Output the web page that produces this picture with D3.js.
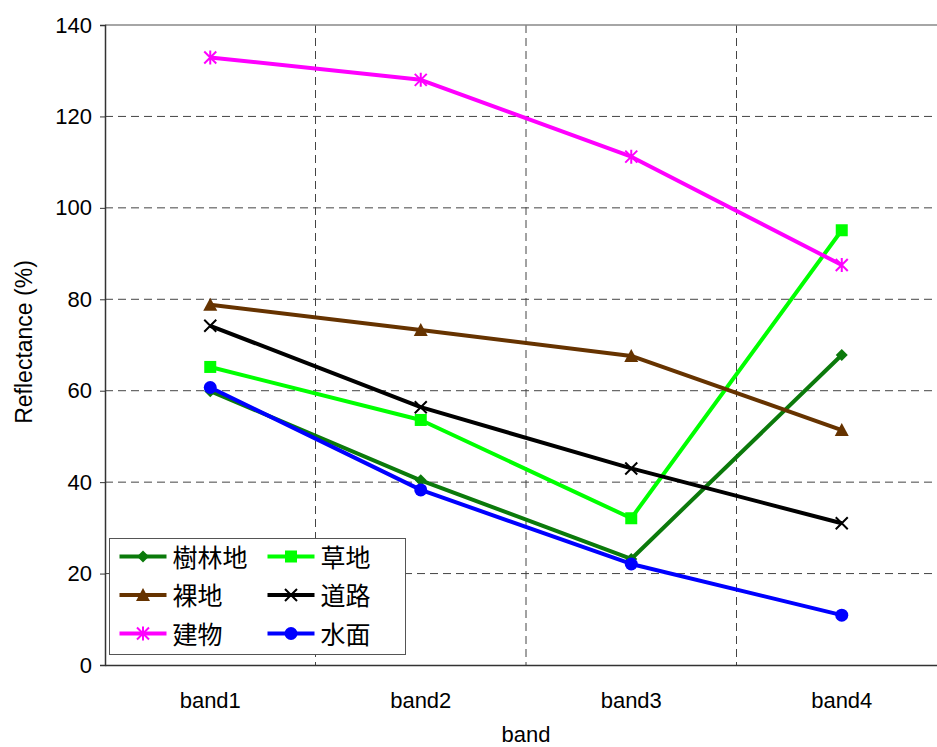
<!DOCTYPE html>
<html>
<head>
<meta charset="utf-8">
<script src="https://cdn.jsdelivr.net/npm/d3@7"></script>
<style>
  body { margin: 0; background: #fff; }
  svg { display: block; font-family: "Liberation Sans", Arial, sans-serif; }
</style>
</head>
<body>
<svg id="chart" width="937" height="747"></svg>
<script>
// ---------------- DATA ----------------
const bands = ["band1", "band2", "band3", "band4"];
const yTicks = [0, 20, 40, 60, 80, 100, 120, 140];

const forest = [59.9, 40.4, 23.2, 67.8];   // 樹林地
const grass = [65.2, 53.6, 32.1, 95.1];    // 草地
const bare = [78.8, 73.3, 67.6, 51.4];     // 裸地
const road = [74.2, 56.4, 43.0, 31.0];     // 道路
const building = [132.9, 128.0, 111.2, 87.5]; // 建物
const water = [60.7, 38.3, 22.1, 10.9];    // 水面

const seriesList = [
  { name: "樹林地", values: forest, color: "#0b7a0b", marker: "diamond" },
  { name: "草地", values: grass, color: "#00ff00", marker: "square" },
  { name: "裸地", values: bare, color: "#663300", marker: "triangle" },
  { name: "道路", values: road, color: "#000000", marker: "x" },
  { name: "建物", values: building, color: "#ff00ff", marker: "asterisk" },
  { name: "水面", values: water, color: "#0000ff", marker: "circle" }
];

// ---------------- CHART ----------------
const svg = d3.select("#chart");
const m = { top: 25, left: 105, bottom: 665, right: 947 };

const x = d3.scaleBand().domain(bands).range([m.left, m.right]);
const y = d3.scaleLinear().domain([0, 140]).range([m.bottom, m.top]);

// gridlines
svg.append("g").selectAll("line")
  .data(yTicks.filter(t => t > 0 && t < 140))
  .join("line")
  .attr("x1", m.left).attr("x2", m.right)
  .attr("y1", d => y(d)).attr("y2", d => y(d))
  .attr("stroke", "#444").attr("stroke-width", 1)
  .attr("stroke-dasharray", "8,5");

svg.append("g").selectAll("line")
  .data(bands.slice(1))
  .join("line")
  .attr("x1", d => x(d)).attr("x2", d => x(d))
  .attr("y1", m.top).attr("y2", m.bottom)
  .attr("stroke", "#444").attr("stroke-width", 1)
  .attr("stroke-dasharray", "8,5");

// top border
svg.append("line")
  .attr("x1", m.left).attr("x2", m.right)
  .attr("y1", m.top).attr("y2", m.top)
  .attr("stroke", "#888").attr("stroke-width", 1.5);

// y axis
const yAxis = svg.append("g")
  .attr("transform", `translate(${m.left},0)`)
  .call(d3.axisLeft(y).tickValues(yTicks).tickSize(5).tickPadding(8));
yAxis.select(".domain").attr("stroke", "#333").attr("stroke-width", 1.5);
yAxis.selectAll(".tick line").attr("stroke", "#333");
yAxis.selectAll("text").attr("font-size", 22).attr("fill", "#000")
  .attr("font-family", "Liberation Sans, Arial, sans-serif");

// x axis
const xAxis = svg.append("g")
  .attr("transform", `translate(0,${m.bottom})`)
  .call(d3.axisBottom(x).tickSize(0).tickPadding(27));
xAxis.select(".domain").attr("stroke", "#333").attr("stroke-width", 1.5);
xAxis.selectAll("text").attr("font-size", 22).attr("fill", "#000")
  .attr("font-family", "Liberation Sans, Arial, sans-serif");

// axis titles
svg.append("text")
  .attr("x", 526).attr("y", 742)
  .attr("text-anchor", "middle")
  .attr("font-size", 22)
  .text("band");

svg.append("text")
  .attr("transform", "translate(32,342) rotate(-90)")
  .attr("text-anchor", "middle")
  .attr("font-size", 23)
  .text("Reflectance (%)");

// markers
function drawMarker(sel, type, color) {
  if (type === "circle") {
    sel.append("circle").attr("r", 6.5).attr("fill", color);
  } else if (type === "square") {
    sel.append("rect").attr("x", -6).attr("y", -6).attr("width", 12).attr("height", 12).attr("fill", color);
  } else if (type === "diamond") {
    sel.append("path").attr("d", "M0,-6L6,0L0,6L-6,0Z").attr("fill", color);
  } else if (type === "triangle") {
    sel.append("path").attr("d", "M0,-7L7,6L-7,6Z").attr("fill", color);
  } else if (type === "x") {
    sel.append("path").attr("d", "M-6,-6L6,6M-6,6L6,-6")
      .attr("stroke", color).attr("stroke-width", 2).attr("fill", "none");
  } else if (type === "asterisk") {
    sel.append("path").attr("d", "M-6,-6L6,6M-6,6L6,-6M0,-7L0,7")
      .attr("stroke", color).attr("stroke-width", 2).attr("fill", "none");
  }
}

const line = d3.line()
  .x((d, i) => x(bands[i]) + x.bandwidth() / 2)
  .y(d => y(d));

seriesList.forEach(s => {
  svg.append("path")
    .datum(s.values)
    .attr("fill", "none")
    .attr("stroke", s.color)
    .attr("stroke-width", 4)
    .attr("stroke-linejoin", "round")
    .attr("d", line);

  s.values.forEach((v, i) => {
    const g = svg.append("g")
      .attr("transform", `translate(${x(bands[i]) + x.bandwidth() / 2},${y(v)})`);
    drawMarker(g, s.marker, s.color);
  });
});

// legend
const legend = svg.append("g").attr("transform", "translate(109.5,538.5)");
legend.append("rect")
  .attr("width", 296).attr("height", 116)
  .attr("fill", "#fff").attr("stroke", "#555").attr("stroke-width", 1);

seriesList.forEach((s, i) => {
  const col = i % 2, row = Math.floor(i / 2);
  const g = legend.append("g")
    .attr("transform", `translate(${10 + col * 148},${18 + row * 38.5})`);
  g.append("line").attr("x1", 0).attr("x2", 47)
    .attr("stroke", s.color).attr("stroke-width", 4);
  const mk = g.append("g").attr("transform", "translate(23.5,0)");
  drawMarker(mk, s.marker, s.color);
  g.append("text")
    .attr("x", 53).attr("y", 10)
    .attr("font-family", "Noto Sans CJK JP, sans-serif")
    .attr("font-size", 25)
    .text(s.name);
});
</script>
</body>
</html>
